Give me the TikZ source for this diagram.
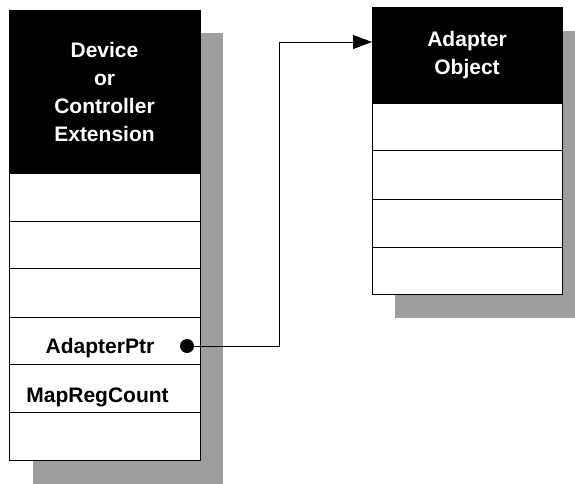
\documentclass[tikz,border=0pt]{standalone}
\usepackage{fontspec}
\setmainfont{Liberation Sans}
\usetikzlibrary{arrows.meta}
\definecolor{shadowc}{gray}{0.62}
\tikzset{
  cell/.style={draw=black, line width=0.9pt, fill=white, inner sep=0pt, outer sep=0pt},
  head/.style={cell, fill=black, text=white, align=center,
    font=\fontsize{21}{28}\selectfont\bfseries},
  shadowbox/.style={fill=shadowc, draw=none, inner sep=0pt, outer sep=0pt},
  lbl/.style={font=\fontsize{21}{28}\selectfont\bfseries, anchor=base, inner sep=0pt},
  dotnode/.style={circle, fill=black, inner sep=0pt, minimum size=14pt},
  conn/.style={line width=0.8pt, -{Triangle[length=19pt,width=14pt]}}
}
\begin{document}
\begin{tikzpicture}[x=1pt,y=-1pt]
\useasboundingbox (0,0) rectangle (575,484);
% shadows
\node[shadowbox, minimum width=190pt, minimum height=451pt] (lshadow) at (128,258.5) {};
\node[shadowbox, minimum width=180pt, minimum height=287pt] (rshadow) at (485,174.5) {};
% left structure
\node[head, minimum width=191pt, minimum height=163pt] (lhead) at (104.5,91.5) {Device\\or\\Controller\\Extension};
\node[cell, minimum width=191pt, minimum height=48pt] (lr1) at (104.5,197) {};
\node[cell, minimum width=191pt, minimum height=47pt] (lr2) at (104.5,244.5) {};
\node[cell, minimum width=191pt, minimum height=49pt] (lr3) at (104.5,292.5) {};
\node[cell, minimum width=191pt, minimum height=47pt] (lr4) at (104.5,340.5) {};
\node[cell, minimum width=191pt, minimum height=48pt] (lr5) at (104.5,388) {};
\node[cell, minimum width=191pt, minimum height=48pt] (lr6) at (104.5,436) {};
\node[lbl] (adptr) at (100,353) {AdapterPtr};
\node[lbl] (mrc) at (97.5,402) {MapRegCount};
% right structure
\node[head, minimum width=190pt, minimum height=96pt] (rhead) at (467,55) {Adapter\\Object};
\node[cell, minimum width=190pt, minimum height=47pt] (rr1) at (467,126.5) {};
\node[cell, minimum width=190pt, minimum height=49pt] (rr2) at (467,174.5) {};
\node[cell, minimum width=190pt, minimum height=48pt] (rr3) at (467,223) {};
\node[cell, minimum width=190pt, minimum height=47pt] (rr4) at (467,270.5) {};
% connector
\coordinate (bend) at (279,42);
\draw[conn] (187,346) node[dotnode] (dot) {} (dot.center) -| (bend) -- (rhead.west |- bend);
\end{tikzpicture}
\end{document}
